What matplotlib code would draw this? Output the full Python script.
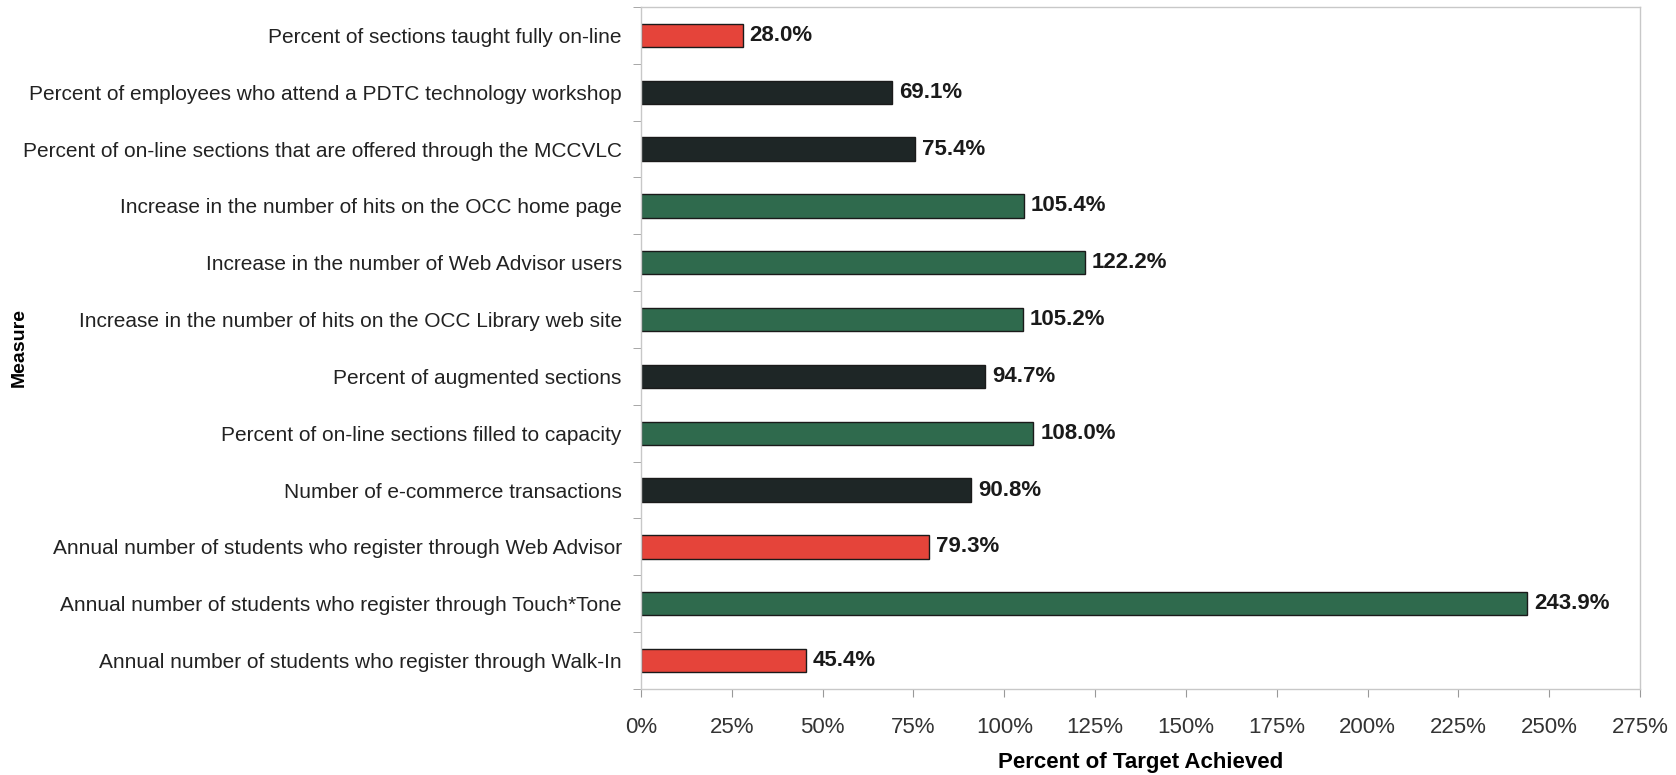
import matplotlib.pyplot as plt
from matplotlib.ticker import FixedLocator, PercentFormatter

plt.rcParams['font.family'] = ['Liberation Sans', 'DejaVu Sans']

# Measures, listed top to bottom
measures = [
    'Percent of sections taught fully on-line',
    'Percent of employees who attend a PDTC technology workshop',
    'Percent of on-line sections that are offered through the MCCVLC',
    'Increase in the number of hits on the OCC home page',
    'Increase in the number of Web Advisor users',
    'Increase in the number of hits on the OCC Library web site',
    'Percent of augmented sections',
    'Percent of on-line sections filled to capacity',
    'Number of e-commerce transactions',
    'Annual number of students who register through Web Advisor',
    'Annual number of students who register through Touch*Tone',
    'Annual number of students who register through Walk-In',
]
achieved = [28.0, 69.1, 75.4, 105.4, 122.2, 105.2, 94.7, 108.0, 90.8, 79.3, 243.9, 45.4]
status = ['red', 'dark', 'dark', 'green', 'green', 'green', 'dark', 'green', 'dark', 'red', 'green', 'red']

status_colors = {'red': '#e5443a', 'dark': '#1e2626', 'green': '#2f6a4d'}

fig = plt.figure(figsize=(16.76, 7.75), dpi=100)
ax = fig.add_axes([0.3825, 0.111, 0.596, 0.880])

ypos = list(range(len(measures)))
ax.barh(ypos, achieved, height=0.41,
        color=[status_colors[s] for s in status],
        edgecolor='#1a1a1a', linewidth=1.0)

for y, v in zip(ypos, achieved):
    ax.text(v + 1.9, y, f'{v:.1f}%', va='center', ha='left',
            fontsize=16, fontweight='bold', color='#1a1a1a')

ax.set_xlim(0, 275)
ax.set_ylim(len(measures) - 0.5, -0.5)
ax.set_xticks(range(0, 276, 25))
ax.xaxis.set_major_formatter(PercentFormatter(decimals=0))
ax.set_yticks(ypos)
ax.set_yticklabels(measures)
ax.yaxis.set_minor_locator(FixedLocator([i + 0.5 for i in range(-1, len(measures))]))

ax.tick_params(axis='y', which='major', length=0, pad=14, labelsize=15, labelcolor='#222222')
ax.tick_params(axis='y', which='minor', length=6, color='#999999')
ax.tick_params(axis='x', which='major', length=6, color='#999999', pad=14,
               labelsize=16, labelcolor='#333333')

for sp in ax.spines.values():
    sp.set_color('#c8c8c8')
    sp.set_linewidth(1.0)

ax.set_xlabel('Percent of Target Achieved', fontsize=16, fontweight='bold', labelpad=10)
ax.set_ylabel('Measure', fontsize=14, fontweight='bold')
ax.yaxis.set_label_coords(-0.614, 0.5)

fig.savefig('out.png', dpi=100)
